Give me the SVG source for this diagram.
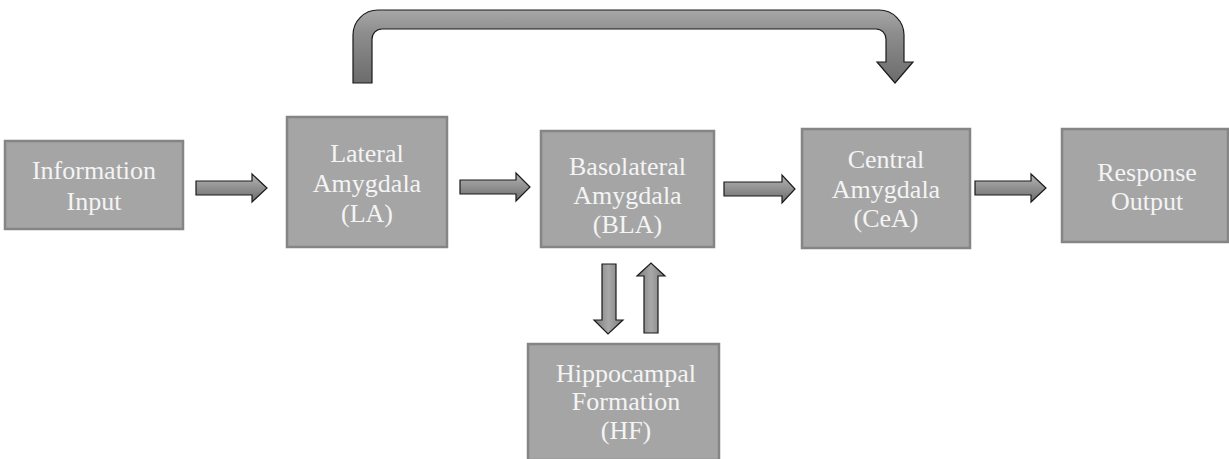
<svg xmlns="http://www.w3.org/2000/svg" width="1229" height="459" viewBox="0 0 1229 459">
<style>
.box{fill:#a5a5a5;stroke:#858585;stroke-width:2.5}
.t{font-family:"Liberation Serif","Times New Roman",serif;font-size:26px;fill:#f4f4f4;text-anchor:middle}
.arr{fill:url(#g);stroke:#1a1a1a;stroke-width:1.2;stroke-linejoin:miter}
.varr{fill:url(#gv);stroke:#1a1a1a;stroke-width:1.2}
</style>
<defs>
<linearGradient id="g" x1="0" y1="0" x2="0" y2="1">
<stop offset="0" stop-color="#b4b4b4"/>
<stop offset="1" stop-color="#6c6c6c"/>
</linearGradient>
<linearGradient id="gv" x1="0" y1="0" x2="1" y2="0">
<stop offset="0" stop-color="#7a7a7a"/>
<stop offset="0.5" stop-color="#a8a8a8"/>
<stop offset="1" stop-color="#7a7a7a"/>
</linearGradient>
<linearGradient id="gc" gradientUnits="userSpaceOnUse" x1="0" y1="10" x2="0" y2="83">
<stop offset="0" stop-color="#a8a8a8"/>
<stop offset="0.3" stop-color="#8e8e8e"/>
<stop offset="1" stop-color="#6c6c6c"/>
</linearGradient>
</defs>
<rect width="1229" height="459" fill="#ffffff"/>
<g id="connectors">
<path class="arr" d="M196,181 H252 V174 L267,188 L252,202 V195 H196 Z"/>
<path class="arr" d="M460,180 H516 V173 L530,187 L516,201 V194 H460 Z"/>
<path class="arr" d="M724,182 H782 V175 L795,189 L782,203 V196 H724 Z"/>
<path class="arr" d="M975,181 H1031 V174 L1046,188 L1031,202 V195 H975 Z"/>
<path class="varr" d="M602,264 H616 V320 H623 L608,334 L594,320 H602 Z"/>
<path class="varr" d="M644,333 V276 H637 L651,263 L665,276 H658 V333 Z"/>
<path fill="url(#gc)" stroke="#1a1a1a" stroke-width="1.2" d="M353,83 V35 A25,25 0 0 1 378,10 H879 A25,25 0 0 1 904,35 V62 H913 L895,83 L877,62 H886 V39 A10,10 0 0 0 876,29 H382 A10,10 0 0 0 372,39 V83 Z"/>
</g>
<g id="info">
<rect class="box" x="5" y="141" width="178" height="88"/>
<text class="t" x="94" y="179">Information</text>
<text class="t" x="94" y="210">Input</text>
</g>
<g id="la">
<rect class="box" x="287" y="117" width="160" height="130"/>
<text class="t" x="367" y="162">Lateral</text>
<text class="t" x="367" y="192">Amygdala</text>
<text class="t" x="367" y="222">(LA)</text>
</g>
<g id="bla">
<rect class="box" x="541" y="131" width="173" height="116"/>
<text class="t" x="627.5" y="175">Basolateral</text>
<text class="t" x="627.5" y="204">Amygdala</text>
<text class="t" x="627.5" y="233">(BLA)</text>
</g>
<g id="cea">
<rect class="box" x="802" y="129" width="168" height="119"/>
<text class="t" x="886" y="168">Central</text>
<text class="t" x="886" y="198">Amygdala</text>
<text class="t" x="886" y="227">(CeA)</text>
</g>
<g id="response">
<rect class="box" x="1062" y="129" width="166" height="113"/>
<text class="t" x="1147" y="181">Response</text>
<text class="t" x="1147" y="210">Output</text>
</g>
<g id="hf">
<rect class="box" x="528" y="344" width="191" height="116"/>
<text class="t" x="626" y="382">Hippocampal</text>
<text class="t" x="626" y="410">Formation</text>
<text class="t" x="626" y="439">(HF)</text>
</g>
</svg>
